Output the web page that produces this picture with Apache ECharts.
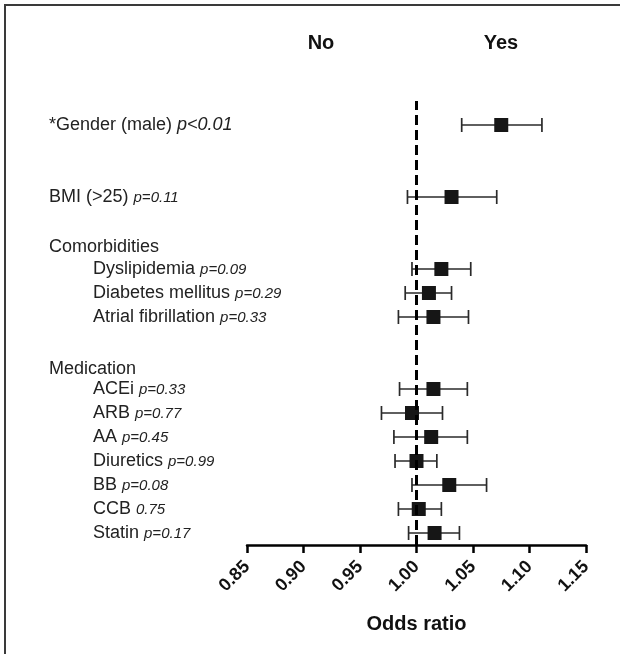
<!DOCTYPE html>
<html>
<head>
<meta charset="UTF-8">
<title>Odds ratio</title>
<script src="https://cdn.jsdelivr.net/npm/echarts@6/dist/echarts.min.js"></script>
<style>
html, body { margin: 0; padding: 0; background: #fff; }
#main { width: 620px; height: 654px; }
</style>
</head>
<body>
<div id="main"></div>
<script type="text/javascript">
// rows, top to bottom (row 1 = bottom row)
var labels = ['*Gender (male)', 'BMI (>25)', 'Dyslipidemia', 'Diabetes mellitus', 'Atrial fibrillation',
              'ACEi', 'ARB', 'AA', 'Diuretics', 'BB', 'CCB', 'Statin'];
var pTexts = ['p<0.01', 'p=0.11', 'p=0.09', 'p=0.29', 'p=0.33',
              'p=0.33', 'p=0.77', 'p=0.45', 'p=0.99', 'p=0.08', '0.75', 'p=0.17'];
var rowIndex = [18, 15, 12, 11, 10, 7, 6, 5, 4, 3, 2, 1];
var indented = [false, false, true, true, true, true, true, true, true, true, true, true];
var oddsRatio = [1.075, 1.031, 1.022, 1.011, 1.015, 1.015, 0.996, 1.013, 1.000, 1.029, 1.002, 1.016];
var ciLow     = [1.040, 0.992, 0.996, 0.990, 0.984, 0.985, 0.969, 0.980, 0.981, 0.996, 0.984, 0.993];
var ciHigh    = [1.111, 1.071, 1.048, 1.031, 1.046, 1.045, 1.023, 1.045, 1.018, 1.062, 1.022, 1.038];

// group headings
var headings = ['Comorbidities', 'Medication'];
var headingRows = [12.9, 7.85];

var FONT = 'Liberation Sans, Arial, Helvetica, sans-serif';

var myChart = echarts.init(document.getElementById('main'));

// label lookup for y positions
var labelAt = {};
for (var i = 0; i < labels.length; i++) {
	var style = i == 0 ? 'pbig' : 'p';
	var main = indented[i] ? 'ind' : 'main';
	labelAt[rowIndex[i]] = '{' + main + '|' + labels[i] + ' }{' + style + '|' + pTexts[i] + '}';
}
for (var i = 0; i < headings.length; i++) {
	labelAt[headingRows[i]] = '{main|' + headings[i] + '}';
}
var yLabelValues = rowIndex.concat(headingRows);

var pointData = [];
var ciData = [];
for (var i = 0; i < labels.length; i++) {
	pointData.push([oddsRatio[i], rowIndex[i]]);
	ciData.push([ciLow[i], ciHigh[i], rowIndex[i]]);
}

function renderCI(params, api) {
	var lo = api.coord([api.value(0), api.value(2)]);
	var hi = api.coord([api.value(1), api.value(2)]);
	var h = 7;
	var st = { stroke: '#2a2a2a', lineWidth: 1.7 };
	return {
		type: 'group',
		children: [
			{ type: 'line', shape: { x1: lo[0], y1: lo[1], x2: hi[0], y2: hi[1] }, style: st },
			{ type: 'line', shape: { x1: lo[0], y1: lo[1] - h, x2: lo[0], y2: lo[1] + h }, style: st },
			{ type: 'line', shape: { x1: hi[0], y1: hi[1] - h, x2: hi[0], y2: hi[1] + h }, style: st }
		]
	};
}

var option = {
	animation: false,
	backgroundColor: '#fff',
	textStyle: { fontFamily: FONT },
	grid: { left: 247, right: 34, top: 101, bottom: 109, outerBoundsMode: 'none', containLabel: false },
	graphic: [
		{ type: 'rect', shape: { x: 5, y: 5, width: 700, height: 700 },
		  style: { fill: 'none', stroke: '#3a3a3a', lineWidth: 2 }, silent: true },
		{ type: 'text', x: 321, y: 43,
		  style: { text: 'No', fontFamily: FONT, fontSize: 20, fontWeight: 'bold', fill: '#111', align: 'center', verticalAlign: 'middle' } },
		{ type: 'text', x: 501, y: 43,
		  style: { text: 'Yes', fontFamily: FONT, fontSize: 20, fontWeight: 'bold', fill: '#111', align: 'center', verticalAlign: 'middle' } }
	],
	xAxis: {
		type: 'value',
		min: 0.85,
		max: 1.15,
		interval: 0.05,
		name: 'Odds ratio',
		nameLocation: 'middle',
		nameGap: 69,
		nameTextStyle: { fontFamily: FONT, fontSize: 20, fontWeight: 'bold', color: '#111' },
		axisLine: { show: true, lineStyle: { color: '#000', width: 2.5 } },
		axisTick: { show: true, length: 8, lineStyle: { color: '#000', width: 2.5 } },
		splitLine: { show: false },
		axisLabel: {
			rotate: 45,
			margin: 19,
			fontFamily: FONT,
			fontSize: 18,
			fontWeight: 'bold',
			color: '#111',
			formatter: function (v) { return Number(v).toFixed(2); }
		}
	},
	yAxis: {
		type: 'value',
		min: 0.5,
		max: 19,
		axisLine: { show: false },
		axisTick: { show: false },
		splitLine: { show: false },
		axisLabel: {
			customValues: yLabelValues,
			align: 'left',
			margin: 198,
			fontFamily: FONT,
			fontSize: 18,
			color: '#222',
			formatter: function (v) {
				for (var k in labelAt) {
					if (Math.abs(Number(k) - v) < 0.01) return labelAt[k];
				}
				return '';
			},
			rich: {
				main: { fontFamily: FONT, fontSize: 18, color: '#222', verticalAlign: 'bottom' },
				ind: { fontFamily: FONT, fontSize: 18, color: '#222', padding: [0, 0, 0, 44], verticalAlign: 'bottom' },
				p: { fontFamily: FONT, fontSize: 15, fontStyle: 'italic', color: '#222', verticalAlign: 'bottom', padding: [0, 0, 1, 0] },
				pbig: { fontFamily: FONT, fontSize: 18, fontStyle: 'italic', color: '#222', verticalAlign: 'bottom' }
			}
		}
	},
	series: [
		{
			type: 'custom',
			renderItem: renderCI,
			data: ciData,
			encode: { x: [0, 1], y: 2 },
			silent: true,
			z: 3
		},
		{
			type: 'scatter',
			symbol: 'rect',
			symbolSize: 14,
			data: pointData,
			itemStyle: { color: '#161616', opacity: 1 },
			silent: true,
			z: 4,
			markLine: {
				silent: true,
				symbol: 'none',
				label: { show: false },
				lineStyle: { color: '#000', width: 3, type: [10, 5] },
				data: [{ xAxis: 1 }]
			}
		}
	]
};

myChart.setOption(option);
</script>
</body>
</html>
